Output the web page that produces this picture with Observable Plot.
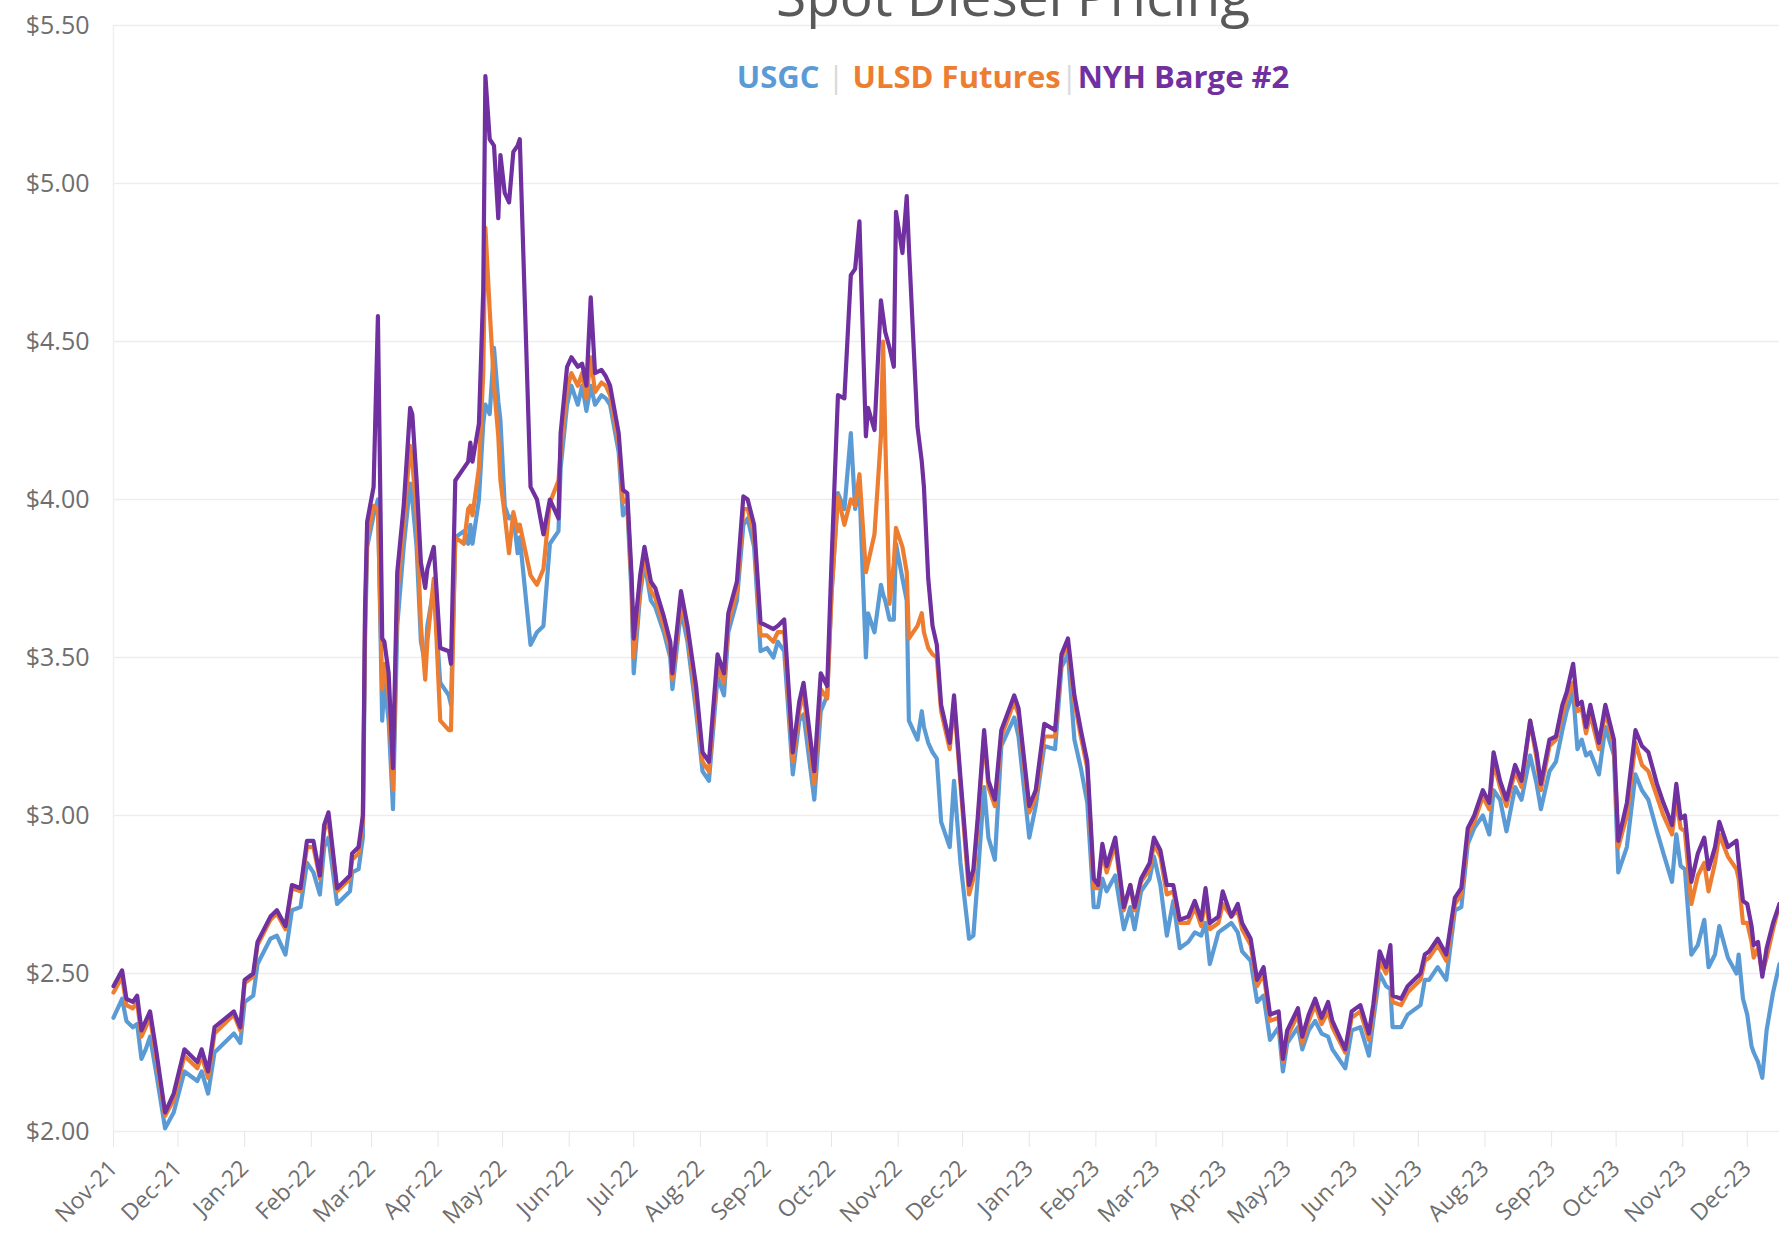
<!DOCTYPE html>
<html>
<head>
<meta charset="utf-8">
<script src="https://cdn.jsdelivr.net/npm/d3@7"></script>
<script src="https://cdn.jsdelivr.net/npm/@observablehq/plot@0.6"></script>
<style>
  html, body { margin: 0; padding: 0; background: #ffffff; overflow: hidden; }
  #wrap { position: relative; width: 1779px; height: 1237px; overflow: hidden; background: #fff; }
  #title { position: absolute; left: 1013px; top: -33px; transform: translateX(-50%);
    font-family: "Open Sans", sans-serif; font-size: 55px; line-height: 55px; color: #595959; white-space: nowrap; }
  #legend { position: absolute; left: 1013px; top: 61px; transform: translateX(-50%);
    font-family: "Open Sans", sans-serif; font-weight: 700; font-size: 31px; line-height: 31px; white-space: nowrap; }
  #legend .sep { color: #d9d9d9; font-weight: 400; }
  #chart { position: absolute; left: 0; top: 0; }
</style>
</head>
<body>
<div id="wrap">
  <div id="chart"></div>
  <div id="title">Spot Diesel Pricing</div>
  <div id="legend"></div>
</div>
<script>
// ---- Data ----
const seriesNames = ["USGC", "ULSD Futures", "NYH Barge #2"];
const seriesColors = ["#5B9BD5", "#ED7D31", "#7030A0"];

const dates = [
  "2021-11-01","2021-11-05","2021-11-07","2021-11-10","2021-11-12","2021-11-14","2021-11-16","2021-11-18","2021-11-21","2021-11-25","2021-11-29",
  "2021-12-04","2021-12-10","2021-12-12","2021-12-15","2021-12-18","2021-12-27","2021-12-30",
  "2022-01-01","2022-01-05","2022-01-07","2022-01-13","2022-01-16","2022-01-20","2022-01-23","2022-01-27","2022-01-30",
  "2022-02-02","2022-02-05","2022-02-07","2022-02-09","2022-02-13","2022-02-19","2022-02-20","2022-02-23","2022-02-25","2022-02-26","2022-02-27",
  "2022-03-02","2022-03-04","2022-03-06","2022-03-07","2022-03-09","2022-03-11","2022-03-13","2022-03-16","2022-03-19","2022-03-20","2022-03-22","2022-03-24","2022-03-26","2022-03-27","2022-03-30",
  "2022-04-02","2022-04-06","2022-04-07","2022-04-09","2022-04-13","2022-04-15","2022-04-16","2022-04-17","2022-04-20","2022-04-22","2022-04-23","2022-04-25","2022-04-27","2022-04-29","2022-04-30",
  "2022-05-02","2022-05-04","2022-05-06","2022-05-08","2022-05-09","2022-05-14","2022-05-17","2022-05-20","2022-05-23","2022-05-27","2022-05-28","2022-05-31",
  "2022-06-02","2022-06-05","2022-06-07","2022-06-09","2022-06-11","2022-06-13","2022-06-16","2022-06-18","2022-06-20","2022-06-24","2022-06-26","2022-06-28","2022-06-30",
  "2022-07-01","2022-07-04","2022-07-06","2022-07-09","2022-07-11","2022-07-15","2022-07-18","2022-07-19","2022-07-23","2022-07-26","2022-07-30",
  "2022-08-02","2022-08-05","2022-08-09","2022-08-12","2022-08-14","2022-08-18","2022-08-21","2022-08-23","2022-08-26","2022-08-29",
  "2022-09-01","2022-09-04","2022-09-06","2022-09-09","2022-09-13","2022-09-16","2022-09-18","2022-09-23","2022-09-26","2022-09-29",
  "2022-10-01","2022-10-04","2022-10-07","2022-10-10","2022-10-12","2022-10-14","2022-10-17","2022-10-18","2022-10-21","2022-10-24","2022-10-25","2022-10-26","2022-10-28","2022-10-30","2022-10-31",
  "2022-11-03","2022-11-05","2022-11-06","2022-11-10","2022-11-12","2022-11-13","2022-11-15","2022-11-17","2022-11-19","2022-11-21","2022-11-25","2022-11-27","2022-11-30",
  "2022-12-04","2022-12-06","2022-12-08","2022-12-11","2022-12-13","2022-12-16","2022-12-19","2022-12-25","2022-12-27",
  "2023-01-01","2023-01-04","2023-01-08","2023-01-13","2023-01-16","2023-01-19","2023-01-22","2023-01-25","2023-01-28","2023-01-31",
  "2023-02-02","2023-02-04","2023-02-06","2023-02-10","2023-02-14","2023-02-17","2023-02-19","2023-02-22","2023-02-26","2023-02-28",
  "2023-03-03","2023-03-06","2023-03-09","2023-03-12","2023-03-16","2023-03-19","2023-03-22","2023-03-24","2023-03-26","2023-03-30",
  "2023-04-01","2023-04-05","2023-04-08","2023-04-10","2023-04-14","2023-04-17","2023-04-20","2023-04-23","2023-04-27","2023-04-29",
  "2023-05-01","2023-05-06","2023-05-08","2023-05-11","2023-05-14","2023-05-17","2023-05-20","2023-05-22","2023-05-28","2023-05-31",
  "2023-06-04","2023-06-08","2023-06-10","2023-06-13","2023-06-16","2023-06-18","2023-06-19","2023-06-23","2023-06-26",
  "2023-07-02","2023-07-04","2023-07-06","2023-07-10","2023-07-14","2023-07-18","2023-07-21","2023-07-24","2023-07-27","2023-07-31",
  "2023-08-03","2023-08-05","2023-08-08","2023-08-11","2023-08-15","2023-08-18","2023-08-22","2023-08-25","2023-08-27","2023-08-31",
  "2023-09-03","2023-09-06","2023-09-08","2023-09-11","2023-09-13","2023-09-15","2023-09-17","2023-09-19","2023-09-23","2023-09-26","2023-09-30",
  "2023-10-02","2023-10-06","2023-10-10","2023-10-13","2023-10-16","2023-10-20","2023-10-23","2023-10-27","2023-10-29","2023-10-31",
  "2023-11-02","2023-11-05","2023-11-08","2023-11-11","2023-11-13","2023-11-16","2023-11-18","2023-11-22","2023-11-26","2023-11-27","2023-11-29",
  "2023-12-01","2023-12-03","2023-12-04","2023-12-06","2023-12-08","2023-12-10","2023-12-13","2023-12-16"
];

const nyh = [
  2.46,2.51,2.42,2.41,2.43,2.32,2.35,2.38,2.25,2.06,2.12,
  2.26,2.22,2.26,2.19,2.33,2.38,2.33,
  2.48,2.50,2.60,2.68,2.70,2.65,2.78,2.77,2.92,
  2.92,2.81,2.97,3.01,2.77,2.81,2.88,2.90,3.00,3.65,3.93,
  4.04,4.58,3.56,3.55,3.45,3.15,3.77,3.98,4.29,4.27,4.06,3.80,3.72,3.78,3.85,
  3.53,3.52,3.48,4.06,4.10,4.12,4.18,4.12,4.24,4.66,5.34,5.14,5.12,4.89,5.09,
  4.97,4.94,5.10,5.12,5.14,4.04,4.00,3.89,4.00,3.94,4.21,4.42,
  4.45,4.42,4.43,4.36,4.64,4.40,4.41,4.39,4.36,4.21,4.03,4.02,3.76,
  3.56,3.76,3.85,3.74,3.72,3.63,3.55,3.45,3.71,3.60,3.41,
  3.20,3.17,3.51,3.45,3.64,3.74,4.01,4.00,3.92,3.61,
  3.60,3.59,3.60,3.62,3.20,3.36,3.42,3.14,3.45,3.41,
  3.80,4.33,4.32,4.71,4.73,4.88,4.20,4.29,4.22,4.63,4.58,4.53,4.48,4.42,4.91,
  4.78,4.96,4.80,4.23,4.12,4.04,3.75,3.60,3.54,3.35,3.23,3.38,3.12,
  2.78,2.83,2.99,3.27,3.11,3.05,3.27,3.38,3.34,
  3.03,3.08,3.29,3.27,3.51,3.56,3.38,3.27,3.17,2.80,
  2.78,2.91,2.84,2.93,2.71,2.78,2.71,2.80,2.85,2.93,
  2.89,2.78,2.78,2.67,2.68,2.73,2.67,2.77,2.66,2.68,
  2.76,2.68,2.72,2.66,2.61,2.48,2.52,2.37,2.38,2.23,
  2.32,2.39,2.30,2.37,2.42,2.36,2.41,2.35,2.26,2.38,
  2.40,2.31,2.40,2.57,2.52,2.59,2.43,2.42,2.46,
  2.50,2.56,2.57,2.61,2.56,2.74,2.77,2.96,3.00,3.08,
  3.04,3.20,3.11,3.05,3.16,3.11,3.30,3.20,3.10,3.24,
  3.25,3.35,3.39,3.48,3.35,3.36,3.28,3.35,3.23,3.35,3.24,
  2.92,3.04,3.27,3.22,3.20,3.10,3.04,2.97,3.10,2.99,
  3.00,2.79,2.88,2.93,2.83,2.90,2.98,2.90,2.92,2.85,2.73,
  2.72,2.65,2.59,2.60,2.49,2.58,2.66,2.72
];

const ulsd = [
  2.44,2.49,2.40,2.39,2.41,2.30,2.33,2.36,2.23,2.05,2.10,
  2.24,2.20,2.24,2.17,2.31,2.37,2.32,
  2.47,2.49,2.59,2.67,2.69,2.64,2.77,2.76,2.90,
  2.90,2.80,2.95,2.99,2.76,2.80,2.86,2.88,2.98,3.60,3.88,
  3.98,3.97,3.40,3.48,3.38,3.08,3.70,3.92,4.17,4.12,3.95,3.60,3.43,3.55,3.75,
  3.30,3.27,3.27,3.88,3.86,3.97,3.98,3.95,4.10,4.40,4.86,4.60,4.36,4.20,4.06,
  3.95,3.83,3.96,3.90,3.92,3.76,3.73,3.78,3.99,4.06,4.15,4.35,
  4.40,4.36,4.40,4.32,4.45,4.34,4.37,4.36,4.33,4.18,3.99,4.00,3.73,
  3.50,3.72,3.82,3.71,3.69,3.60,3.53,3.43,3.68,3.58,3.37,
  3.17,3.14,3.48,3.42,3.61,3.71,3.97,3.97,3.89,3.57,
  3.57,3.55,3.58,3.58,3.17,3.33,3.39,3.10,3.40,3.37,
  3.70,4.01,3.92,4.00,3.98,4.08,3.77,3.80,3.89,4.20,4.50,4.20,3.67,3.80,3.91,
  3.85,3.77,3.56,3.60,3.64,3.58,3.53,3.51,3.50,3.33,3.21,3.36,3.10,
  2.75,2.80,2.97,3.25,3.09,3.03,3.25,3.36,3.32,
  3.01,3.06,3.25,3.25,3.50,3.54,3.36,3.25,3.15,2.77,
  2.77,2.89,2.82,2.91,2.70,2.78,2.70,2.79,2.83,2.91,
  2.87,2.75,2.76,2.66,2.66,2.71,2.65,2.74,2.64,2.66,
  2.72,2.68,2.70,2.64,2.59,2.46,2.50,2.35,2.36,2.22,
  2.30,2.37,2.28,2.35,2.40,2.34,2.38,2.33,2.25,2.36,
  2.38,2.29,2.38,2.54,2.50,2.55,2.41,2.40,2.44,
  2.48,2.54,2.55,2.59,2.54,2.72,2.75,2.94,2.98,3.06,
  3.02,3.17,3.09,3.03,3.14,3.09,3.30,3.18,3.08,3.22,
  3.24,3.32,3.37,3.42,3.33,3.34,3.26,3.32,3.21,3.33,3.22,
  2.90,3.00,3.23,3.16,3.14,3.06,3.00,2.94,3.05,2.96,
  2.95,2.72,2.81,2.85,2.76,2.85,2.94,2.87,2.83,2.80,2.66,
  2.66,2.60,2.55,2.58,2.50,2.55,2.64,2.72
];

const usgc = [
  2.36,2.42,2.35,2.33,2.34,2.23,2.26,2.30,2.18,2.01,2.06,
  2.19,2.16,2.19,2.12,2.25,2.31,2.28,
  2.41,2.43,2.53,2.61,2.62,2.56,2.70,2.71,2.85,
  2.82,2.75,2.90,2.93,2.72,2.76,2.82,2.83,2.93,3.55,3.85,
  3.95,4.00,3.30,3.42,3.30,3.02,3.60,3.85,4.05,4.00,3.85,3.55,3.48,3.60,3.72,
  3.42,3.38,3.35,3.88,3.90,3.86,3.92,3.86,4.00,4.24,4.30,4.27,4.48,4.31,4.25,
  3.98,3.94,3.95,3.83,3.88,3.54,3.58,3.60,3.86,3.90,4.10,4.30,
  4.36,4.30,4.36,4.28,4.36,4.30,4.33,4.32,4.30,4.15,3.95,3.98,3.70,
  3.45,3.70,3.80,3.68,3.66,3.58,3.50,3.40,3.65,3.55,3.33,
  3.14,3.11,3.44,3.38,3.58,3.68,3.92,3.94,3.85,3.52,
  3.53,3.50,3.55,3.52,3.13,3.30,3.32,3.05,3.33,3.38,
  3.70,4.02,3.97,4.21,3.97,4.04,3.50,3.64,3.58,3.73,3.70,3.68,3.62,3.62,3.86,
  3.75,3.68,3.30,3.24,3.33,3.28,3.23,3.20,3.18,2.98,2.90,3.11,2.85,
  2.61,2.62,2.80,3.09,2.93,2.86,3.22,3.31,3.25,
  2.93,3.03,3.22,3.21,3.47,3.51,3.24,3.15,3.04,2.71,
  2.71,2.80,2.76,2.81,2.64,2.71,2.64,2.76,2.80,2.87,
  2.78,2.62,2.73,2.58,2.60,2.63,2.62,2.66,2.53,2.63,
  2.64,2.66,2.63,2.57,2.54,2.41,2.43,2.29,2.33,2.19,
  2.28,2.33,2.26,2.32,2.35,2.31,2.30,2.26,2.20,2.32,
  2.33,2.24,2.35,2.50,2.46,2.45,2.33,2.33,2.37,
  2.40,2.48,2.48,2.52,2.48,2.70,2.71,2.91,2.96,3.00,
  2.94,3.08,3.05,2.95,3.09,3.05,3.19,3.10,3.02,3.14,
  3.17,3.27,3.33,3.39,3.21,3.24,3.19,3.20,3.13,3.28,3.19,
  2.82,2.90,3.13,3.08,3.05,2.95,2.88,2.79,2.94,2.84,
  2.83,2.56,2.59,2.67,2.52,2.56,2.65,2.55,2.50,2.56,2.42,
  2.37,2.27,2.25,2.22,2.17,2.32,2.44,2.53
];

const yTicks = [2.0, 2.5, 3.0, 3.5, 4.0, 4.5, 5.0, 5.5];
const xStart = "2021-11-01";
const xEnd = "2023-12-16";
const tickMonthsFrom = "2021-11-01";
const tickMonthsTo = "2023-12-02";

// ---- Build table ----
const parse = d3.utcParse("%Y-%m-%d");
const seriesValues = [usgc, ulsd, nyh];
const rows = [];
seriesNames.forEach((name, k) => {
  dates.forEach((d, i) => rows.push({date: parse(d), value: seriesValues[k][i], series: name}));
});
const monthTicks = d3.utcMonth.range(parse(tickMonthsFrom), parse(tickMonthsTo));

const chart = Plot.plot({
  width: 1779,
  height: 1237,
  marginTop: 25,
  marginBottom: 106,
  marginLeft: 113,
  marginRight: 0,
  style: {fontFamily: "'Open Sans', sans-serif", background: "#ffffff", overflow: "visible"},
  x: {type: "utc", domain: [parse(xStart), parse(xEnd)]},
  y: {domain: [2, 5.5]},
  color: {domain: seriesNames, range: seriesColors},
  marks: [
    Plot.gridY(yTicks, {stroke: "#ededed", strokeOpacity: 1, strokeWidth: 1.5}),
    Plot.ruleX([parse(xStart)], {stroke: "#f0f0f0", strokeWidth: 1.5}),
    Plot.axisY(yTicks, {tickSize: 0, tickPadding: 24, tickFormat: d => "$" + d.toFixed(2),
      fontSize: 25, fill: "#6e6e6e", label: null}),
    Plot.axisX(monthTicks, {tickSize: 16, stroke: "#e6e6e6", tickRotate: -45, tickPadding: 17,
      tickFormat: d3.utcFormat("%b-%y"), fontSize: 23, fill: "#6e6e6e", label: null}),
    Plot.lineY(rows, {x: "date", y: "value", z: "series", stroke: "series", strokeWidth: 4.2,
      strokeLinejoin: "round", strokeLinecap: "round"})
  ]
});
document.getElementById("chart").appendChild(chart);

// ---- Legend ----
const legend = document.getElementById("legend");
const seps = [" | ", "|", ""];
seriesNames.forEach((name, i) => {
  const s = document.createElement("span");
  s.textContent = name;
  s.style.color = seriesColors[i];
  legend.appendChild(s);
  if (seps[i]) {
    const sep = document.createElement("span");
    sep.className = "sep";
    sep.textContent = seps[i];
    legend.appendChild(sep);
  }
});
</script>
</body>
</html>
